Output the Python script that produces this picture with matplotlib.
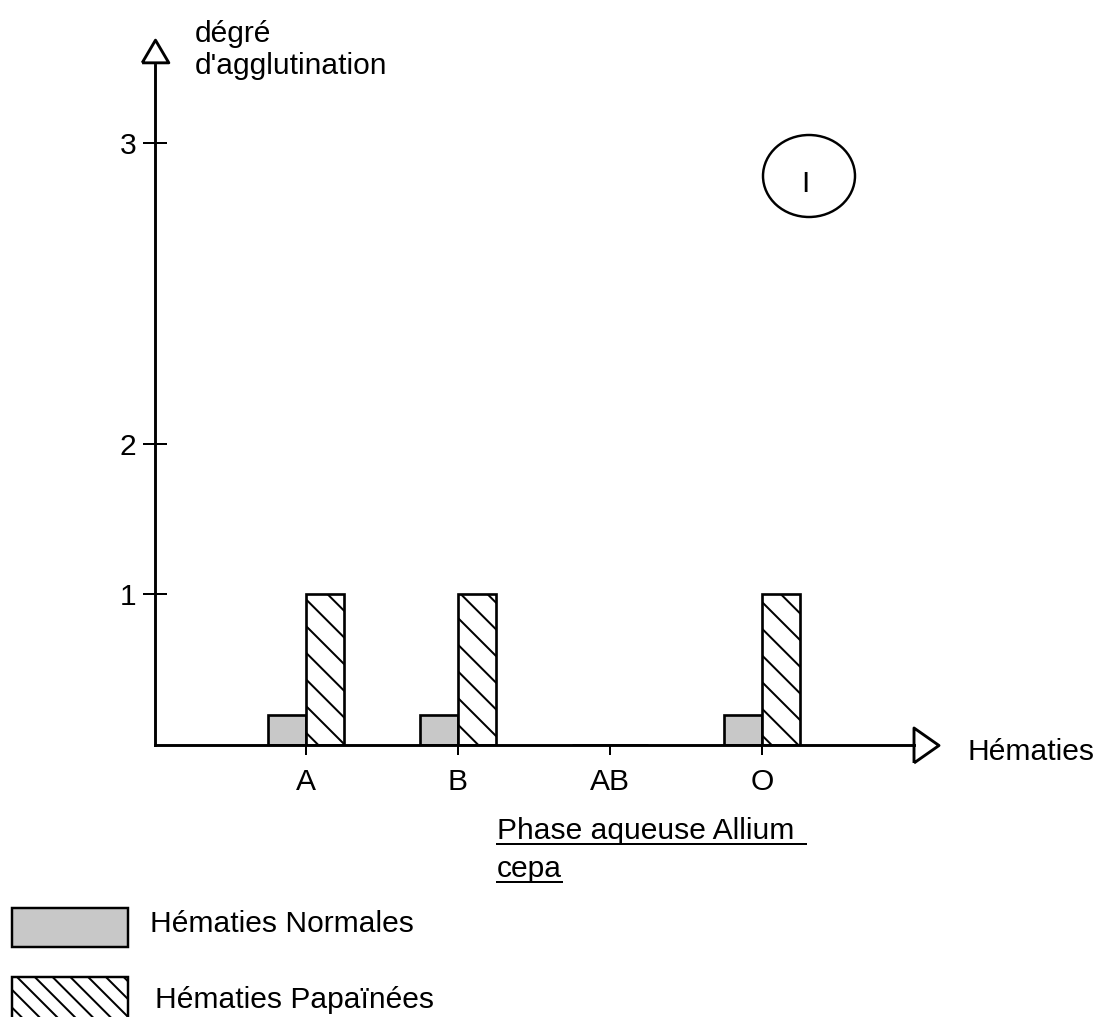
import matplotlib
matplotlib.use('Agg')
import numpy as np
import matplotlib.pyplot as plt
from matplotlib.patches import Ellipse, Rectangle
from matplotlib.lines import Line2D

plt.rcParams['font.family'] = ['Liberation Sans', 'DejaVu Sans']
plt.rcParams['hatch.linewidth'] = 0.9

# Donnees
groupes = ['A', 'B', 'AB', 'O']
normales = [0.2, 0.2, 0, 0.2]
papainees = [1, 1, 0, 1]
ytick_pos = [1, 2, 4]
ytick_lab = ['1', '2', '3']

DPI = 160
W, H = 1110, 1017


def fx(px):
    return px / W


def fy(py):
    return 1 - py / H


fig = plt.figure(figsize=(W / DPI, H / DPI), dpi=DPI)
ax = fig.add_axes([fx(155), fy(745), fx(940) - fx(155), fy(40) - fy(745)])

x = np.arange(len(groupes))
larg = 0.25
ax.bar(x - larg / 2, normales, larg, color='#c8c8c8', edgecolor='black', linewidth=1.2)
ax.bar(x + larg / 2, papainees, larg, color='white', edgecolor='black', linewidth=1.2, hatch='\\\\')

x0 = -0.993
ax.set_xlim(x0, 4.171)
ax.set_ylim(0, 4.684)

for s in ['top', 'right']:
    ax.spines[s].set_visible(False)
ax.spines['left'].set_bounds(0, 4.52)
ax.spines['bottom'].set_bounds(x0, 4.0)
ax.spines['left'].set_linewidth(1.3)
ax.spines['bottom'].set_linewidth(1.3)

ax.set_xticks(x, groupes)
ax.set_yticks(ytick_pos, ytick_lab)
ax.tick_params(axis='y', direction='inout', length=10.8, width=0.9, pad=3, labelsize=13.5)
ax.tick_params(axis='x', direction='out', length=4.5, width=0.9, pad=6, labelsize=13.5)

# fleches (triangles creux)
ax.plot([x0], [4.608], marker=[(-1, -0.85), (0, 0.85), (1, -0.85), (-1, -0.85)],
        ms=12, mfc='white', mec='black', mew=1.3, clip_on=False)
ax.plot([4.076], [0], marker=[(-0.714, -1), (0.714, 0), (-0.714, 1), (-0.714, -1)],
        ms=15.75, mfc='white', mec='black', mew=1.3, clip_on=False)

fig.text(fx(195), fy(20), "dégré\nd'agglutination", fontsize=13.5, ha='left', va='top')
fig.text(fx(967), fy(760), "Hématies", fontsize=13.5, ha='left', va='baseline')

# cercle I
fig.add_artist(Ellipse((fx(809), fy(176)), 92 / W, 82 / H, transform=fig.transFigure,
                       fill=False, edgecolor='black', linewidth=1.1))
fig.text(fx(805), fy(192), "I", fontsize=13.5, ha='center', va='baseline')

# titre souligne
t1 = fig.text(fx(497), fy(839), "Phase aqueuse Allium", fontsize=13.5, ha='left', va='baseline')
t2 = fig.text(fx(497), fy(877), "cepa", fontsize=13.5, ha='left', va='baseline')

# legende
fig.add_artist(Rectangle((fx(12), fy(947)), 116 / W, 39 / H, transform=fig.transFigure,
                         facecolor='#c8c8c8', edgecolor='black', linewidth=1.1))
fig.add_artist(Rectangle((fx(12), fy(1019)), 116 / W, 42 / H, transform=fig.transFigure,
                         facecolor='white', edgecolor='black', linewidth=1.1, hatch='\\\\\\'))
fig.text(fx(150), fy(932), "Hématies Normales", fontsize=13.5, ha='left', va='baseline')
fig.text(fx(155), fy(1008), "Hématies Papaïnées", fontsize=13.5, ha='left', va='baseline')

fig.canvas.draw()
r = fig.canvas.get_renderer()
for t, extra, dy in [(t1, 12, 5), (t2, 0, 5)]:
    bb = t.get_window_extent(r)
    yl = t.get_position()[1] - dy / H
    fig.add_artist(Line2D([bb.x0 / W, (bb.x1 + extra) / W], [yl, yl],
                          transform=fig.transFigure, color='black', linewidth=0.9))

fig.savefig('out.png', dpi=DPI)
